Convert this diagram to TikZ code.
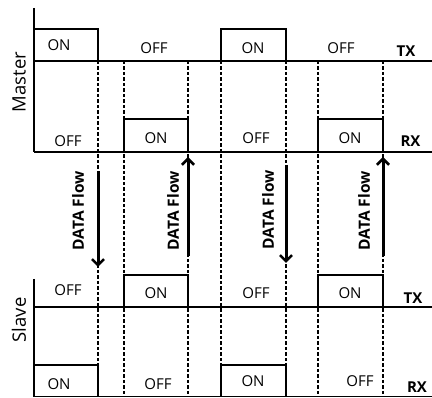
\documentclass[tikz,border=0pt]{standalone}
\usepackage{fontspec}
\setmainfont{Open Sans}
\usetikzlibrary{arrows.meta}
\tikzset{
  wave/.style={line width=1.5pt, line join=miter},
  guide/.style={line width=1.2pt, dash pattern=on 3.5pt off 2pt},
  state/.style={font=\fontsize{15}{17}\selectfont, inner sep=0pt},
  channel/.style={font=\bfseries\fontsize{15}{17}\selectfont, inner sep=0pt},
  role/.style={font=\fontsize{18.5}{20}\selectfont, inner sep=0pt, rotate=90},
  flowtext/.style={font=\bfseries\fontsize{15.5}{17}\selectfont, inner sep=0pt, rotate=90},
  flow/.style={line width=3pt, -{Straight Barb[length=6pt,width=12pt,line width=2.6pt]}}
}
\begin{document}
\begin{tikzpicture}[x=1pt,y=-1pt]
\useasboundingbox (0,0) rectangle (432,398);

% dashed timing guides
\foreach \gx in {98,124,188,221,286,318,383}
  \draw[guide] (\gx,61) -- (\gx,397);

% master axes
\draw[wave] (34,8) -- (34,152);
\draw[wave] (34,61) -- (432,61);
\draw[wave] (34,152) -- (432,152);
% master TX pulses
\draw[wave] (34,29) -- (98,29) -- (98,61);
\draw[wave] (221,61) -- (221,29) -- (286,29) -- (286,61);
% master RX pulses
\draw[wave] (124,152) -- (124,119) -- (188,119) -- (188,152);
\draw[wave] (318,152) -- (318,119) -- (383,119) -- (383,152);

% slave axes
\draw[wave] (34,279) -- (34,397);
\draw[wave] (34,307) -- (432,307);
\draw[wave] (34,396.5) -- (432,396.5);
% slave TX pulses
\draw[wave] (124,307) -- (124,275) -- (188,275) -- (188,307);
\draw[wave] (318,307) -- (318,275) -- (383,275) -- (383,307);
% slave RX pulses
\draw[wave] (34,365) -- (98,365) -- (98,397);
\draw[wave] (221,397) -- (221,365) -- (286,365) -- (286,397);

% state labels, master
\node[state] (mt1) at (59,45) {ON};
\node[state] (mt2) at (154,48) {OFF};
\node[state] (mt3) at (253,48) {ON};
\node[state] (mt4) at (341,48) {OFF};
\node[channel] (mtx) at (406,51) {TX};
\node[state] (mr1) at (68,141) {OFF};
\node[state] (mr2) at (156,138) {ON};
\node[state] (mr3) at (256,138) {OFF};
\node[state] (mr4) at (350,138) {ON};
\node[channel] (mrx) at (410.5,141.5) {RX};

% state labels, slave
\node[state] (st1) at (68,290) {OFF};
\node[state] (st2) at (156,293) {ON};
\node[state] (st3) at (256,293) {OFF};
\node[state] (st4) at (350,293) {ON};
\node[channel] (stx) at (413,298) {TX};
\node[state] (sr1) at (59,384) {ON};
\node[state] (sr2) at (158,384) {OFF};
\node[state] (sr3) at (253,381) {ON};
\node[state] (sr4) at (360,381) {OFF};
\node[channel] (srx) at (417,387.5) {RX};

% role labels
\node[role] (master) at (19,82) {Master};
\node[role] (slave) at (19,320) {Slave};

% data flow arrows
\coordinate (a1s) at (98,171);  \coordinate (a1e) at (98,267);
\coordinate (a2s) at (188,256); \coordinate (a2e) at (188,157);
\coordinate (a3s) at (286,165); \coordinate (a3e) at (286,263);
\coordinate (a4s) at (383,256); \coordinate (a4e) at (383,157);
\draw[flow] (a1s) -- (a1e);
\draw[flow] (a2s) -- (a2e);
\draw[flow] (a3s) -- (a3e);
\draw[flow] (a4s) -- (a4e);
\node[flowtext] (f1) at (78,211) {DATA Flow};
\node[flowtext] (f2) at (173,211) {DATA Flow};
\node[flowtext] (f3) at (268,210) {DATA Flow};
\node[flowtext] (f4) at (364,211) {DATA Flow};
\end{tikzpicture}
\end{document}
